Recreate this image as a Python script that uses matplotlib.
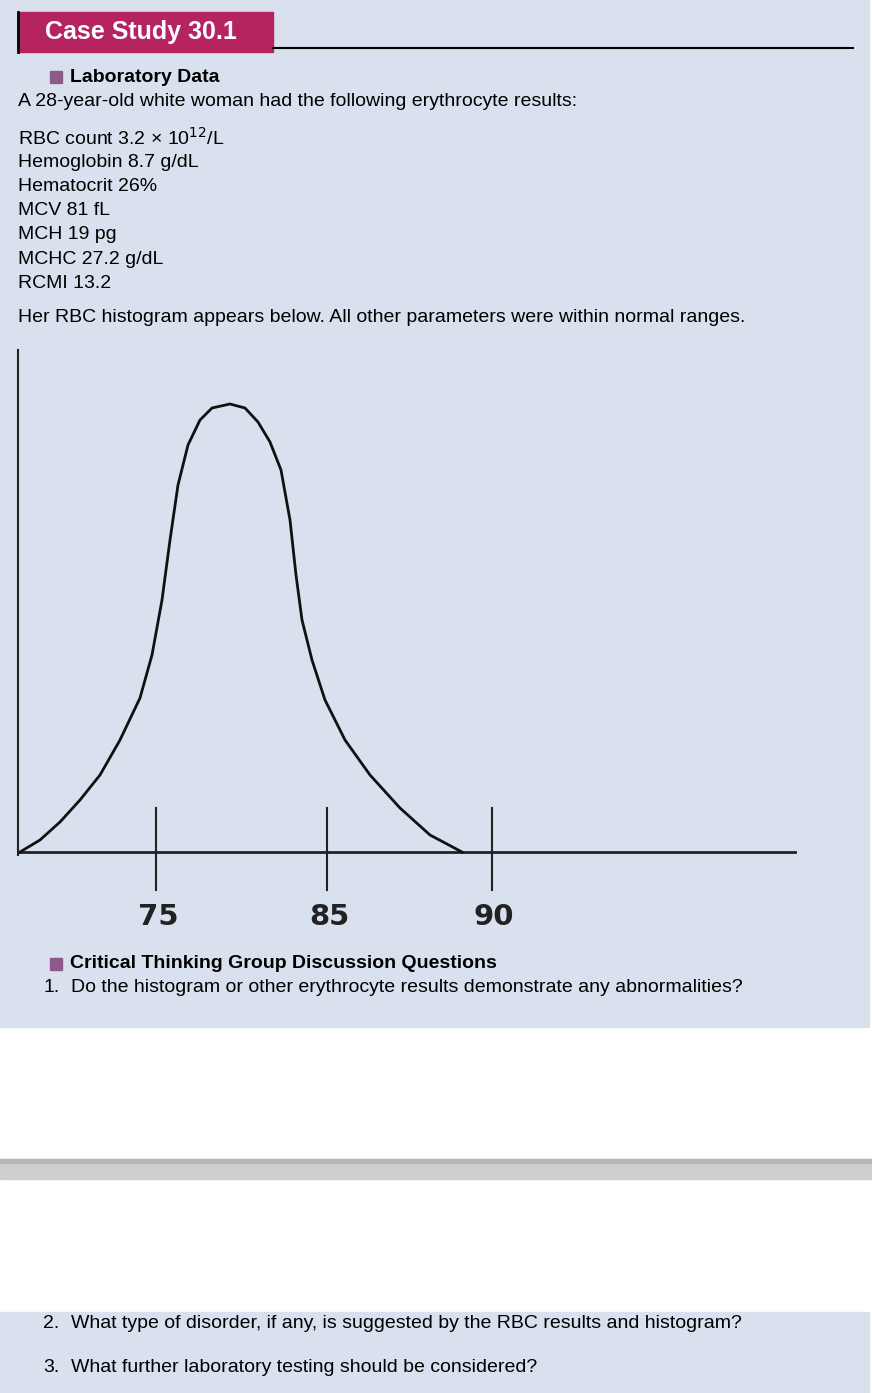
import matplotlib.pyplot as plt
from matplotlib.patches import Rectangle

# page content
title = "Case Study 30.1"
lab_header = "Laboratory Data"
intro = "A 28-year-old white woman had the following erythrocyte results:"
lab_lines = ["RBC count 3.2 × 10$^{12}$/L", "Hemoglobin 8.7 g/dL", "Hematocrit 26%",
             "MCV 81 fL", "MCH 19 pg", "MCHC 27.2 g/dL", "RCMI 13.2"]
histo_note = "Her RBC histogram appears below. All other parameters were within normal ranges."
q_header = "Critical Thinking Group Discussion Questions"
questions = ["Do the histogram or other erythrocyte results demonstrate any abnormalities?",
             "What type of disorder, if any, is suggested by the RBC results and histogram?",
             "What further laboratory testing should be considered?"]

# histogram curve (page pixel coordinates)
curve_x = [20, 40, 60, 80, 100, 120, 140, 152, 162, 170, 178, 188, 200, 212, 230, 245, 258,
           270, 281, 290, 296, 302, 312, 325, 345, 370, 400, 430, 462]
curve_y = [852, 840, 822, 800, 775, 740, 698, 655, 600, 540, 485, 445, 420, 408, 404, 408, 422,
           442, 470, 520, 575, 620, 660, 700, 740, 775, 808, 835, 852]
tick_x = [156, 327, 492]
tick_labels = ["75", "85", "90"]

W, H = 872, 1393
fig = plt.figure(figsize=(W / 100, H / 100), dpi=100)
ax = fig.add_axes([0, 0, 1, 1])
ax.set_xlim(0, W)
ax.set_ylim(H, 0)
ax.axis("off")

bg = "#d9e1ee"
ax.add_patch(Rectangle((0, 0), 869, 1027, color=bg, zorder=0))
ax.add_patch(Rectangle((0, 1312), 869, 81, color=bg, zorder=0))
ax.add_patch(Rectangle((0, 1159), W, 20, color="#cfcfcf", zorder=0))
ax.add_patch(Rectangle((0, 1159), W, 4, color="#b8b8b8", zorder=0))

# header
ax.add_patch(Rectangle((18, 12), 255, 40, color="#b5245f", zorder=1))
ax.plot([18, 18], [12, 52], color="black", lw=2)
ax.plot([273, 853], [48, 48], color="black", lw=1.5)
ax.text(45, 32, title, color="white", fontsize=18, fontweight="bold",
        family="Liberation Sans", va="center")

fs = 14
fam = "Liberation Sans"
ax.add_patch(Rectangle((50, 71), 12, 12, color="#8e5a8e"))
ax.text(70, 77, lab_header, fontsize=fs, fontweight="bold", family=fam, va="center")
ax.text(18, 101, intro, fontsize=fs, family=fam, va="center")
for i, line in enumerate(lab_lines):
    ax.text(18, 138 + i * 24.2, line, fontsize=fs, family=fam, va="center")
ax.text(18, 317, histo_note, fontsize=fs, family=fam, va="center")

# histogram
ax.plot([18, 18], [350, 855], color="#222", lw=1.5)
ax.plot([18, 795], [852, 852], color="#222", lw=2)
ax.plot(curve_x, curve_y, color="#111", lw=2, solid_joinstyle="round")
for x, lab in zip(tick_x, tick_labels):
    ax.plot([x, x], [808, 890], color="#222", lw=1.5)
    ax.text(x + 2, 917, lab, fontsize=21, fontweight="bold", family="DejaVu Sans",
            ha="center", va="center", color="#222")

ax.add_patch(Rectangle((50, 958), 12, 12, color="#8e5a8e"))
ax.text(70, 964, q_header, fontsize=fs, fontweight="bold", family=fam, va="center")
for i, y in zip(range(3), [988, 1324, 1368]):
    ax.text(43, y, f"{i + 1}.", fontsize=fs, family=fam, va="center")
    ax.text(71, y, questions[i], fontsize=fs, family=fam, va="center")

fig.savefig("out.png", dpi=100)
